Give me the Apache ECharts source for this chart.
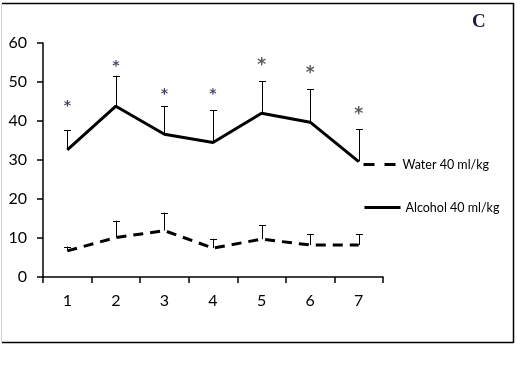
<!DOCTYPE html>
<html>
<head>
<meta charset="utf-8">
<script src="https://cdn.jsdelivr.net/npm/echarts@6/dist/echarts.min.js"></script>
<style>
html,body{margin:0;padding:0;background:#fff;}
#chart{width:517px;height:387px;}
</style>
</head>
<body>
<div id="chart"></div>
<script>
var categories = ['1','2','3','4','5','6','7'];
var alcoholMean = [32.6, 43.8, 36.6, 34.5, 42.0, 39.7, 29.6];
var alcoholUpper = [37.6, 51.6, 43.8, 42.7, 50.2, 48.1, 37.9];
var waterMean = [6.7, 10.1, 11.9, 7.4, 9.7, 8.2, 8.2];
var waterUpper = [7.8, 14.4, 16.5, 9.8, 13.3, 11.0, 11.0];
var asteriskY = [44.4, 54.8, 47.5, 47.5, 55.2, 53.1, 42.6];
var yTicks = [0, 10, 20, 30, 40, 50, 60];
var seriesNames = ['Water 40 ml/kg', 'Alcohol 40 ml/kg'];
var panelLabel = 'C';

var chart = echarts.init(document.getElementById('chart'), null, {renderer: 'canvas'});

function errData(mean, upper) {
  return mean.map(function (m, i) { return [i, m, upper[i]]; });
}
function renderErr(params, api) {
  var x = api.value(0), m = api.value(1), u = api.value(2);
  var p0 = api.coord([x, m]);
  var p1 = api.coord([x, u]);
  var xs = Math.round(p0[0]) + 0.5;
  return {
    type: 'group',
    children: [
      {type: 'line', shape: {x1: xs, y1: p0[1], x2: xs, y2: p1[1]}, style: {stroke: '#000', lineWidth: 1}},
      {type: 'line', shape: {x1: xs - 3.5, y1: Math.round(p1[1]) + 0.5, x2: xs + 3.5, y2: Math.round(p1[1]) + 0.5}, style: {stroke: '#000', lineWidth: 1}}
    ]
  };
}

var starData = asteriskY.map(function (v, i) {
  var big = i >= 4;
  return {
    value: [i, v],
    label: {
      fontSize: big ? 17 : 14,
      color: big ? '#333' : '#15153a',
      fontWeight: 'bold',
      offset: [0, big ? 4 : 3]
    }
  };
});

var legendText = {fontFamily: 'Lato', fontSize: 12.5, color: '#000'};
var option = {
  backgroundColor: '#fff',
  animation: false,
  grid: {left: 43, top: 43, right: 134, bottom: 110, containLabel: false},
  legend: [
    {
      data: [seriesNames[0]], left: 362, top: 158, padding: 0, itemWidth: 34, itemHeight: 14, itemGap: 4,
      itemStyle: {opacity: 0}, lineStyle: {width: 3, color: '#000', type: [11, 10]}, textStyle: legendText
    },
    {
      data: [seriesNames[1]], left: 363, top: 201, padding: 0, itemWidth: 36, itemHeight: 14, itemGap: 3,
      itemStyle: {opacity: 0}, lineStyle: {width: 3, color: '#000', type: 'solid'}, textStyle: legendText
    }
  ],
  xAxis: {
    type: 'category',
    data: categories,
    boundaryGap: true,
    axisLine: {lineStyle: {color: '#000', width: 1.5}},
    axisTick: {show: true, length: 6, alignWithLabel: false, lineStyle: {color: '#000', width: 1.5}},
    axisLabel: {fontFamily: 'Lato', fontSize: 16, color: '#000', margin: 16}
  },
  yAxis: {
    type: 'value',
    min: yTicks[0], max: yTicks[yTicks.length - 1], interval: yTicks[1] - yTicks[0],
    axisLine: {show: true, lineStyle: {color: '#000', width: 1.5}},
    axisTick: {show: true, length: 6, lineStyle: {color: '#000', width: 1.5}},
    splitLine: {show: false},
    axisLabel: {fontFamily: 'Lato', fontSize: 16, color: '#000', margin: 16}
  },
  series: [
    {
      type: 'custom', name: 'errW', data: errData(waterMean, waterUpper), renderItem: renderErr, z: 1
    },
    {
      type: 'custom', name: 'errA', data: errData(alcoholMean, alcoholUpper), renderItem: renderErr, z: 1
    },
    {
      name: seriesNames[0], type: 'line', data: waterMean, symbol: 'none', z: 3,
      lineStyle: {color: '#000', width: 3, type: [10, 7]}, itemStyle: {color: '#000'}
    },
    {
      name: seriesNames[1], type: 'line', data: alcoholMean, symbol: 'none', z: 3,
      lineStyle: {color: '#000', width: 3, type: 'solid'}, itemStyle: {color: '#000'}
    },
    {
      type: 'scatter', name: 'stars', data: starData, symbolSize: 0, z: 4,
      label: {show: true, position: 'inside', formatter: '*', fontFamily: 'DejaVu Sans'}
    }
  ],
  graphic: [
    {type: 'line', shape: {x1: 2, y1: 3.5, x2: 513.5, y2: 3.5}, style: {stroke: '#000', lineWidth: 1.5}, silent: true},
    {type: 'line', shape: {x1: 2, y1: 342.5, x2: 513.5, y2: 342.5}, style: {stroke: '#000', lineWidth: 1.5}, silent: true},
    {type: 'line', shape: {x1: 513.5, y1: 3, x2: 513.5, y2: 343}, style: {stroke: '#000', lineWidth: 1.5}, silent: true},
    {type: 'line', shape: {x1: 1.5, y1: 4, x2: 1.5, y2: 342}, style: {stroke: '#d4d4d4', lineWidth: 1}, silent: true},
    {type: 'text', left: 472, top: 13, style: {text: panelLabel, fontFamily: 'Liberation Serif', fontWeight: 'bold', fontSize: 19, fill: '#1a1a3a'}, silent: true}
  ]
};
chart.setOption(option);
</script>
</body>
</html>
